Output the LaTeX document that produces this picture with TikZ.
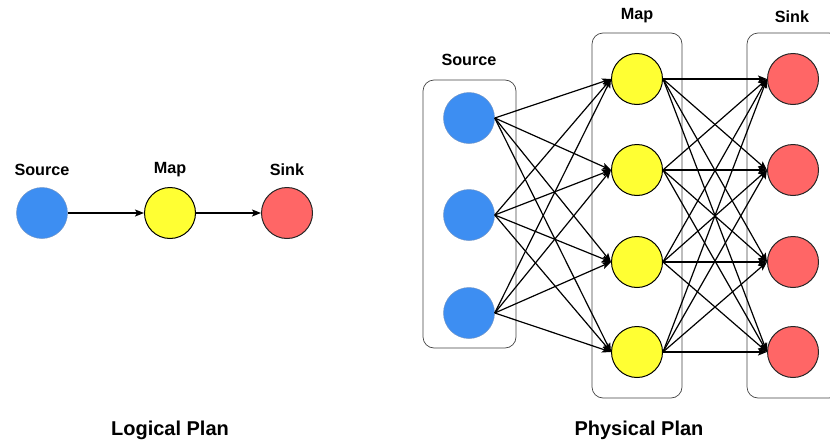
\documentclass[tikz,border=0pt]{standalone}
\usepackage{fontspec}
\setmainfont{Liberation Sans}
\usetikzlibrary{arrows.meta}
\definecolor{srcblue}{HTML}{3D8EF2}
\definecolor{srcedge}{HTML}{6F95C8}
\definecolor{mapyellow}{HTML}{FFFF33}
\definecolor{sinkred}{HTML}{FF6666}
\definecolor{groupedge}{HTML}{444444}
\begin{document}
\begin{tikzpicture}[x=1pt,y=-1pt,
  blob/.style={circle, minimum size=51pt, inner sep=0pt, line width=1pt},
  src/.style={blob, fill=srcblue, draw=srcedge, line width=0.5pt},
  mapn/.style={blob, fill=mapyellow, draw=black},
  sinkn/.style={blob, fill=sinkred, draw=black!85},
  link/.style={line width=1.2pt, -{Stealth[length=9pt,width=7pt,inset=2pt]}},
  group/.style={draw=groupedge, line width=0.7pt, rounded corners=11pt},
  lbl/.style={font=\bfseries\fontsize{16.2}{18}\selectfont},
  title/.style={font=\bfseries\fontsize{20}{24}\selectfont}]
\useasboundingbox (0,0) rectangle (830,442);

% ---------- logical plan ----------
\node[src]   (ls) at (42,213) {};
\node[mapn]  (lm) at (170,213) {};
\node[sinkn] (lk) at (287,213) {};
\node[lbl] (lsl) at (42,170) {Source};
\node[lbl] (lml) at (170,170) {Map};
\node[lbl] (lkl) at (287,170) {Sink};
\draw[link] (ls.east) -- (lm.west);
\draw[link] (lm.east) -- (lk.west);
\node[title] (lt) at (170,430) {Logical Plan};

% ---------- physical plan ----------
\draw[group] (423,80) rectangle (516,348);
\draw[group] (592,33) rectangle (682,398);
\draw[group] (747,33) rectangle (840,398);

\node[lbl] (psl) at (469,60) {Source};
\node[lbl] (pml) at (637,16) {Map};
\node[lbl] (pkl) at (792,17) {Sink};

\foreach \i/\y in {1/118,2/215,3/313}
  \node[src] (s\i) at (469,\y) {};
\foreach \i/\y in {1/79,2/170,3/262,4/352}{
  \node[mapn]  (m\i) at (637,\y) {};
  \node[sinkn] (k\i) at (793,\y) {};
}

\foreach \i in {1,2,3}
  \foreach \j in {1,...,4}
    \draw[link] (s\i.east) -- (m\j.west);
\foreach \i in {1,...,4}
  \foreach \j in {1,...,4}
    \draw[link] (m\i.east) -- (k\j.west);

\node[title] (pt) at (639,430) {Physical Plan};
\end{tikzpicture}
\end{document}
